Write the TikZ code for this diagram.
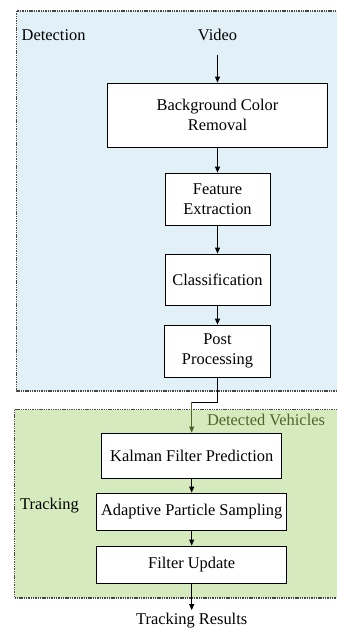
\documentclass[tikz,border=0pt]{standalone}
\usepackage{fontspec}
\setmainfont{Liberation Serif}
\usepackage{xcolor}
\usetikzlibrary{arrows.meta,positioning,calc}
\definecolor{detfill}{RGB}{226,241,247}
\definecolor{trkfill}{RGB}{214,235,189}
\definecolor{olive}{RGB}{79,98,40}
\definecolor{border}{RGB}{70,70,70}

\begin{document}
\begin{tikzpicture}[
    x=1pt, y=-1pt,
    font=\fontsize{16.4}{19.5}\selectfont,
    region/.style={draw=border, line width=1.1pt, dash pattern=on 1.4pt off 0.9pt},
    stage/.style={draw, line width=0.8pt, fill=white, align=center, inner sep=0pt},
    label/.style={inner sep=0pt, anchor=base},
    flow/.style={-{Triangle[length=6pt,width=5pt]}, line width=0.8pt}
]
    \clip (0,0) rectangle (337,630);
    % Regions
    \filldraw[region, fill=detfill] (16.5,11) rectangle (345,391);
    \filldraw[region, fill=trkfill] (14.5,409.5) rectangle (345,598);
    \node[label, anchor=base west] (detlbl) at (21.5,40.7) {Detection};
    \node[label, anchor=base west] (trklbl) at (20,509) {Tracking};

    % Detection stages
    \node[label, outer ysep=14pt] (video) at (217.5,40.7) {Video};
    \node[stage, minimum width=220.5pt, minimum height=64pt] (bgr) at (217.5,115) {Background Color\\Removal};
    \node[stage, minimum width=105pt, minimum height=52pt] (feat) at (217.5,199) {Feature\\Extraction};
    \node[stage, minimum width=105pt, minimum height=51pt] (cls) at (217.5,279.5) {Classification};
    \node[stage, minimum width=106pt, minimum height=52pt] (post) at (217.5,351) {Post\\Processing};

    % Tracking stages
    \node[label, text=olive] (detveh) at (266,425) {Detected Vehicles};
    \node[stage, minimum width=180pt, minimum height=45pt] (kal) at (191.7,455.5) {Kalman Filter Prediction};
    \node[stage, minimum width=190pt, minimum height=37pt] (aps) at (191.7,511.5) {Adaptive Particle Sampling};
    \node[stage, minimum width=190pt, minimum height=37pt] (upd) at (191.7,564.5) {Filter Update};
    \node[label, outer ysep=3pt] (result) at (191.7,624.5) {Tracking Results};

    % Connectors
    \foreach \from/\to in {video/bgr, bgr/feat, feat/cls, cls/post, kal/aps, aps/upd, upd/result} {
        \draw[flow] (\from.south) -- (\to.north);
    }
    \coordinate (jog) at (217.5,402);
    \coordinate (bend) at (191.7,402);
    \draw[line width=0.8pt] (post.south) -- (jog) -- (bend);
    \draw[flow, olive] (bend) -- (kal.north);
\end{tikzpicture}
\end{document}
